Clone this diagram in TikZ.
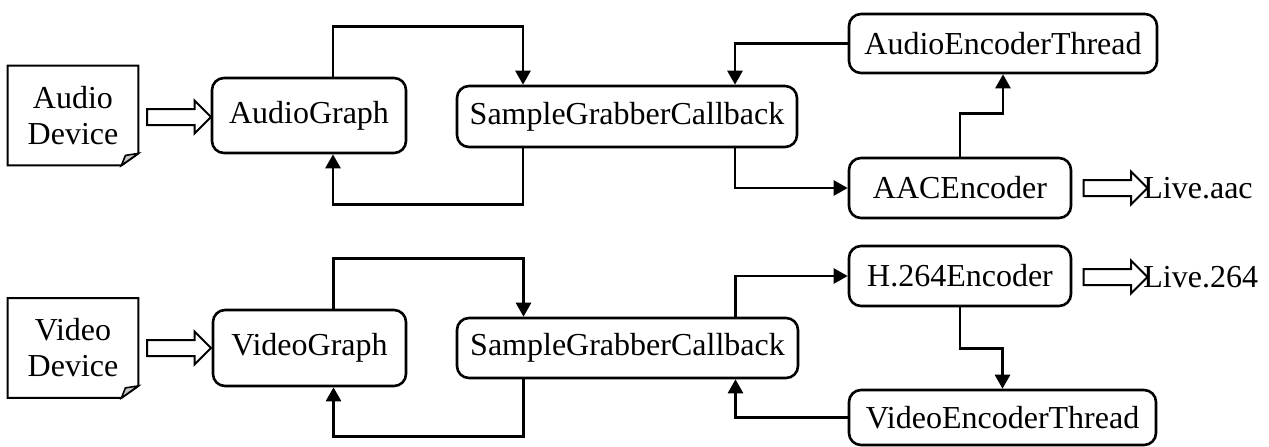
\documentclass[tikz,border=0pt]{standalone}
\usepackage{fontspec}
\setmainfont{Liberation Serif}
\usetikzlibrary{arrows.meta, shapes.arrows}

\begin{document}
\begin{tikzpicture}[
    x=0.5pt, y=-0.5pt,
    box/.style={draw, line width=1.3pt, rounded corners=6pt, inner sep=0pt, align=center, font=\fontsize{16}{18}\selectfont},
    devbox/.style={minimum width=65pt, minimum height=49.5pt, inner sep=0pt, align=center, font=\fontsize{16}{18}\selectfont},
    docline/.style={line width=1pt, line join=miter},
    fold/.style={line width=0.8pt, fill=gray!45},
    hollow/.style={single arrow, draw, line width=1pt, inner xsep=0pt, inner ysep=3.5pt, minimum height=32pt,
        single arrow head extend=4.25pt, single arrow tip angle=90},
    outtext/.style={anchor=west, inner sep=0pt, font=\fontsize{16}{18}\selectfont},
    arr/.style={-{Triangle[length=7pt, width=7.5pt]}, line width=1.4pt}]
\useasboundingbox (0,0) rectangle (1269,446);

% audio branch
\node[devbox] (adev) at (73,115.5) {Audio\\Device};
\node[hollow] (ain) at (175,117) {};
\node[box, minimum width=97pt, minimum height=37.5pt] (agraph) at (309,115.5) {AudioGraph};
\node[box, minimum width=170pt, minimum height=30.5pt] (asgc) at (627,116.5) {SampleGrabberCallback};
\node[box, minimum width=154pt, minimum height=29.5pt] (aet) at (1003,43.5) {AudioEncoderThread};
\node[box, minimum width=111pt, minimum height=30pt] (aac) at (960,188) {AACEncoder};
\node[hollow] (aout) at (1111.5,188) {};
\node[outtext] (aacfile) at (1143,188) {Live.aac};

% video branch
\node[devbox] (vdev) at (73,348) {Video\\Device};
\node[hollow] (vin) at (175,348) {};
\node[box, minimum width=96.5pt, minimum height=38pt] (vgraph) at (309.5,348) {VideoGraph};
\node[box, minimum width=170.5pt, minimum height=30pt] (vsgc) at (627.5,348) {SampleGrabberCallback};
\node[box, minimum width=111pt, minimum height=30pt] (h264) at (960,276) {H.264Encoder};
\node[box, minimum width=153.5pt, minimum height=27.5pt] (vet) at (1002.5,417.5) {VideoEncoderThread};
\node[hollow] (vout) at (1111.5,277) {};
\node[outtext] (h264file) at (1143,277) {Live.264};

% device symbols with folded corner
\foreach \d in {adev, vdev} {
  \draw[docline] (\d.north west) -- (\d.north east) -- ([yshift=6pt]\d.south east)
    -- ([xshift=-8.5pt]\d.south east) -- (\d.south west) -- cycle;
  \filldraw[fold] ([yshift=6pt]\d.south east) -- ([xshift=-8.5pt]\d.south east)
    -- ([xshift=-6.5pt, yshift=5pt]\d.south east) -- cycle;
}

% audio connectors
\draw[arr] ([xshift=12pt]agraph.north) -- ++(0,-50) -| ([xshift=-52pt]asgc.north);
\draw[arr] ([xshift=-52pt]asgc.south) -- ++(0,56) -| ([xshift=12pt]agraph.south);
\draw[arr] (aet.west) -| ([xshift=54pt]asgc.north);
\draw[arr] ([xshift=54pt]asgc.south) |- (aac.west);
\draw[arr] (aac.north) -- ++(0,-43) -| (aet.south);

% video connectors
\draw[arr] ([xshift=12pt]vgraph.north) -- ++(0,-50) -| ([xshift=-52pt]vsgc.north);
\draw[arr] ([xshift=-52pt]vsgc.south) -- ++(0,57) -| ([xshift=12pt]vgraph.south);
\draw[arr] ([xshift=54pt]vsgc.north) |- (h264.west);
\draw[arr] (h264.south) -- ++(0,41) -| (vet.north);
\draw[arr] (vet.west) -| ([xshift=54pt]vsgc.south);
\end{tikzpicture}
\end{document}
